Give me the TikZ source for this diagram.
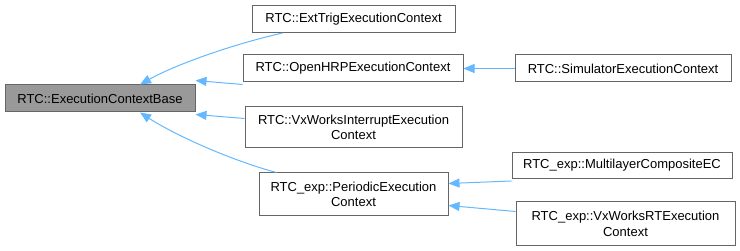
\documentclass[tikz,border=0pt]{standalone}
\usepackage{fontspec}
\setmainfont{Liberation Sans}
\usetikzlibrary{arrows.meta}
\definecolor{edgeblue}{HTML}{63B8FF}
\definecolor{boxline}{HTML}{666666}
\definecolor{basefill}{HTML}{999999}
\tikzset{
  cls/.style={draw=boxline, line width=1pt, fill=white, inner sep=0pt, align=center,
    font=\fontsize{13}{15.5}\selectfont},
  inh/.style={draw=edgeblue, line width=1pt, -{Triangle[length=11pt,width=9pt,fill=edgeblue]}}
}
\begin{document}
\begin{tikzpicture}[x=1pt,y=-1pt]
\useasboundingbox (0,0) rectangle (740,251);
\node[cls, fill=basefill, minimum width=190pt, minimum height=27pt] (base) at (100,98.5) {RTC::ExecutionContextBase};
\node[cls, minimum width=203pt, minimum height=27pt] (ext) at (353.5,19) {RTC::ExtTrigExecutionContext};
\node[cls, minimum width=220pt, minimum height=27pt] (hrp) at (353,68.5) {RTC::OpenHRPExecutionContext};
\node[cls, minimum width=217pt, minimum height=41pt] (vxi) at (353.5,127.5) {RTC::VxWorksInterruptExecution\\Context};
\node[cls, minimum width=189pt, minimum height=43pt] (per) at (353.5,194.5) {RTC\_exp::PeriodicExecution\\Context};
\node[cls, minimum width=216pt, minimum height=27pt] (sim) at (623,68.5) {RTC::SimulatorExecutionContext};
\node[cls, minimum width=220pt, minimum height=26pt] (mlc) at (622,165.5) {RTC\_exp::MultilayerCompositeEC};
\node[cls, minimum width=219pt, minimum height=44pt] (vxr) at (625.5,224) {RTC\_exp::VxWorksRTExecution\\Context};

\draw[inh] ([xshift=31pt]ext.south west) .. controls (230,45) and (175,65) .. ([xshift=40pt]base.north);
\draw[inh] ([yshift=-2pt]hrp.south west) -- ([yshift=4pt]base.north east);
\draw[inh] ([yshift=-12pt]vxi.north west) -- ([yshift=-2pt]base.south east);
\draw[inh] ([xshift=18pt]per.north west) .. controls (230,160) and (175,135) .. ([xshift=40pt]base.south);
\draw[inh] (sim.west) -- (hrp.east);
\draw[inh] ([yshift=-2pt]mlc.south west) -- ([yshift=-11pt]per.north east);
\draw[inh] ([yshift=-10pt]vxr.north west) -- ([yshift=11pt]per.south east);
\end{tikzpicture}
\end{document}
